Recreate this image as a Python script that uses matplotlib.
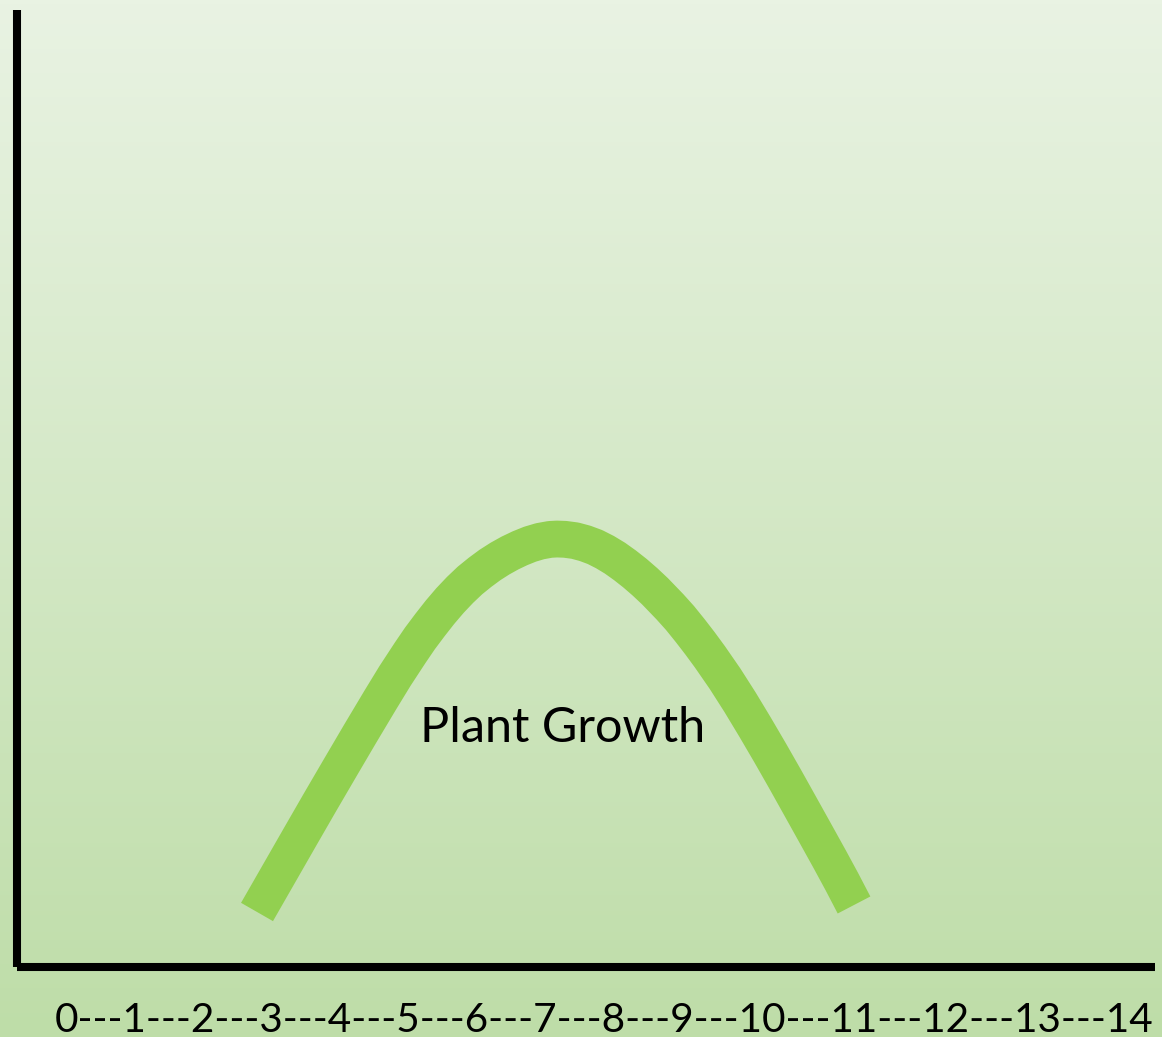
import numpy as np
import matplotlib
matplotlib.use('Agg')
import matplotlib.pyplot as plt

# curve (x in "label" units, y on a 0-100 scale)
growth_x = [2.782, 3.411, 3.704, 3.997, 4.290, 4.583, 4.802, 5.022, 5.168,
            5.315, 5.461, 5.608, 5.754, 5.900, 6.047, 6.193, 6.340, 6.486,
            6.633, 6.779, 6.925, 7.072, 7.174, 7.291, 7.438, 7.584, 7.731,
            7.877, 8.023, 8.170, 8.316, 8.463, 8.609, 8.829, 8.975, 9.122,
            9.268, 9.414, 9.634, 9.854, 10.073, 10.293, 10.512, 10.732,
            10.952, 11.171, 11.347, 11.523]
growth_y = [5.75, 13.58, 17.21, 20.79, 24.35, 27.85, 30.41, 32.81, 34.34,
            35.74, 37.07, 38.30, 39.40, 40.39, 41.24, 42.01, 42.68, 43.26,
            43.76, 44.18, 44.49, 44.68, 44.72, 44.69, 44.55, 44.27, 43.88,
            43.35, 42.72, 41.97, 41.15, 40.24, 39.26, 37.63, 36.47, 35.17,
            33.82, 32.40, 30.13, 27.67, 25.08, 22.40, 19.66, 16.85,
            14.03, 11.21, 8.89, 6.48]
curve_label = 'Plant Growth'
tick_labels = [str(i) for i in range(15)]


def main():
    fig = plt.figure(figsize=(11.62, 10.37), dpi=100)

    # gradient background over the whole picture
    bg = fig.add_axes([0, 0, 1, 1], zorder=-1)
    top = np.array([233, 243, 227]) / 255
    bottom = np.array([190, 221, 168]) / 255
    t = np.linspace(0, 1, 256)[:, None]
    grad = top[None, :] * (1 - t) + bottom[None, :] * t
    bg.imshow(grad[:, None, :], aspect='auto', extent=[0, 1, 0, 1])
    bg.axis('off')

    ax = fig.add_axes([17 / 1162, 70 / 1037, 1138 / 1162, 957 / 1037])
    ax.patch.set_alpha(0)
    ax.plot(growth_x, growth_y, color='#92d050', lw=26.5,
            solid_capstyle='butt', solid_joinstyle='round')
    ax.set_xlim(-50 / 68.3, 1088 / 68.3)
    ax.set_ylim(0, 100)
    ax.text(7.25, 25.0, curve_label, ha='center', va='center',
            fontsize=35, family='Lato', color='black')

    for side in ['top', 'right']:
        ax.spines[side].set_visible(False)
    for side in ['left', 'bottom']:
        ax.spines[side].set_linewidth(5.8)
        ax.spines[side].set_color('black')
        ax.spines[side].set_capstyle('butt')
    ax.set_xticks([])
    ax.set_yticks([])

    fig.text(55 / 1162, 5 / 1037, '---'.join(tick_labels), ha='left',
             va='baseline', fontsize=29.2, family='Lato', color='black')

    fig.savefig('out.png', dpi=100)


if __name__ == "__main__":
    main()
